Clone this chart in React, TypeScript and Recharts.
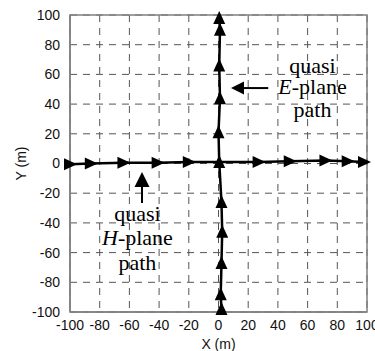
import {
  CartesianGrid,
  ReferenceArea,
  ReferenceDot,
  ReferenceLine,
  Scatter,
  ScatterChart,
  XAxis,
  YAxis,
} from "recharts";

const AXIS_TICKS = [-100, -80, -60, -40, -20, 0, 20, 40, 60, 80, 100];

// quasi H-plane path (runs left to right, along y ~ 0)
const H_PATH_X = [-100, -86, -64, -41, -20, 27, 48, 72, 87, 98];
const H_PATH_Y = [-0.5, 0, 0.5, 0.5, 1, 1, 1.5, 2, 1.5, 1];

// quasi E-plane path (runs bottom to top, along x ~ 0)
const E_PATH_X = [2, 1.5, 2, 2.5, 2, 0.5, 0, 1, 0.5, 1, 0.5];
const E_PATH_Y = [-98, -88, -67, -46, -26, 1, 21, 44, 66, 90, 98];

const hPath = H_PATH_X.map((x, i) => ({ x, y: H_PATH_Y[i] }));
const ePath = E_PATH_X.map((x, i) => ({ x, y: E_PATH_Y[i] }));

const ANNOTATION_FONT = "'Liberation Serif', 'Times New Roman', serif";
const AXIS_FONT = "'Liberation Sans', Arial, Helvetica, sans-serif";

function RightArrow(props: any) {
  const { cx, cy } = props;
  return <path d={`M${cx - 6},${cy - 6}L${cx + 7},${cy}L${cx - 6},${cy + 6}Z`} fill="#000" />;
}

function UpArrow(props: any) {
  const { cx, cy } = props;
  return <path d={`M${cx - 6},${cy + 6}L${cx},${cy - 7}L${cx + 6},${cy + 6}Z`} fill="#000" />;
}

function Label({ x, y, italic, rest }: { x: number; y: number; italic?: string; rest: string }) {
  return (
    <ReferenceDot
      x={x}
      y={y}
      r={0}
      shape={(p: any) => (
        <text x={p.cx} y={p.cy} textAnchor="middle" fontFamily={ANNOTATION_FONT} fontSize={22} fill="#000">
          {italic ? <tspan fontStyle="italic">{italic}</tspan> : null}
          {rest}
        </text>
      )}
    />
  );
}

export default function App() {
  return (
    <div style={{ position: "absolute", left: 0, top: 0, background: "#fff" }}>
      <ScatterChart width={375} height={351} margin={{ top: 15, right: 8, bottom: 0, left: 8 }}>
        <CartesianGrid stroke="#555" strokeDasharray="7 6" strokeWidth={1} />
        <ReferenceArea x1={-100} x2={100} y1={-100} y2={100} fillOpacity={0} stroke="#808080" strokeWidth={1.5} />
        <XAxis
          type="number"
          dataKey="x"
          domain={[-100, 100]}
          ticks={AXIS_TICKS}
          interval={0}
          height={39}
          axisLine={{ stroke: "#808080", strokeWidth: 1.5 }}
          tickLine={false}
          tickMargin={2}
          tick={{ fill: "#111", fontSize: 14, fontFamily: AXIS_FONT }}
          label={{ value: "X (m)", position: "insideBottom", offset: 2, fill: "#111", fontSize: 14, fontFamily: AXIS_FONT }}
        />
        <YAxis
          type="number"
          dataKey="y"
          domain={[-100, 100]}
          ticks={AXIS_TICKS}
          interval={0}
          width={62}
          axisLine={{ stroke: "#808080", strokeWidth: 1.5 }}
          tickLine={false}
          tickMargin={4}
          tick={{ fill: "#111", fontSize: 14, fontFamily: AXIS_FONT }}
          label={{
            value: "Y (m)",
            angle: -90,
            position: "insideLeft",
            offset: 13,
            fill: "#111",
            fontSize: 14,
            fontFamily: AXIS_FONT,
            style: { textAnchor: "middle" },
          }}
        />
        <Scatter
          data={hPath}
          line={{ stroke: "#000", strokeWidth: 2.5 }}
          shape={RightArrow}
          isAnimationActive={false}
        />
        <Scatter
          data={ePath}
          line={{ stroke: "#000", strokeWidth: 2.5 }}
          shape={UpArrow}
          isAnimationActive={false}
        />

        {/* quasi E-plane annotation */}
        <ReferenceLine segment={[{ x: 33.5, y: 50.8 }, { x: 15, y: 50.8 }]} stroke="#000" strokeWidth={2} />
        <ReferenceDot
          x={8.4}
          y={50.8}
          r={0}
          shape={(p: any) => (
            <path d={`M${p.cx},${p.cy}L${p.cx + 13},${p.cy - 6.5}L${p.cx + 13},${p.cy + 6.5}Z`} fill="#000" />
          )}
        />
        <Label x={63.3} y={60.9} rest="quasi" />
        <Label x={63.3} y={46.8} italic="E" rest="-plane" />
        <Label x={63.3} y={31.3} rest="path" />

        {/* quasi H-plane annotation */}
        <ReferenceLine segment={[{ x: -51.5, y: -26.6 }, { x: -51.5, y: -12 }]} stroke="#000" strokeWidth={2} />
        <ReferenceDot
          x={-51.5}
          y={-5.7}
          r={0}
          shape={(p: any) => (
            <path d={`M${p.cx},${p.cy}L${p.cx + 7.5},${p.cy + 15}L${p.cx - 7.5},${p.cy + 15}Z`} fill="#000" />
          )}
        />
        <Label x={-54.6} y={-38.5} rest="quasi" />
        <Label x={-54.6} y={-54.9} italic="H" rest="-plane" />
        <Label x={-54.6} y={-71.7} rest="path" />
      </ScatterChart>
    </div>
  );
}
